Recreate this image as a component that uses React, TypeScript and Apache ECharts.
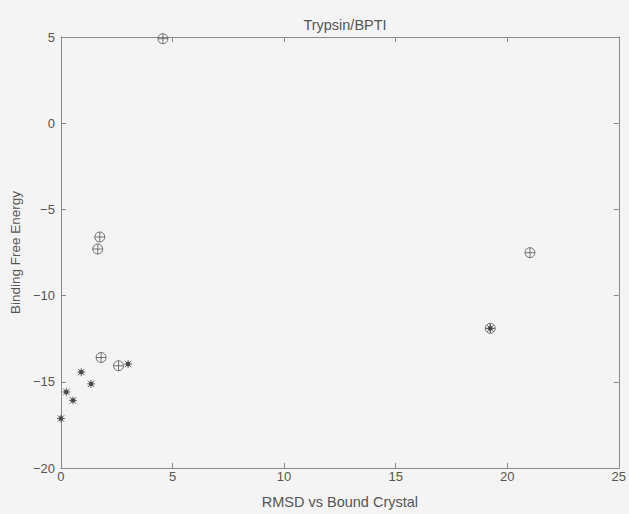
import React, { useEffect, useRef } from "react";
import * as echarts from "echarts";

const circleRmsd = [4.57, 1.74, 1.65, 1.8, 2.58, 19.24, 21.02];
const circleEnergy = [4.9, -6.6, -7.3, -13.59, -14.07, -11.9, -7.51];
const starRmsd = [0.0, 0.24, 0.54, 0.91, 1.35, 3.01, 19.24];
const starEnergy = [-17.13, -15.59, -16.08, -14.44, -15.12, -13.97, -11.9];
const xTicks = [0, 5, 10, 15, 20, 25];
const yTicks = [-20, -15, -10, -5, 0, 5];

const CIRCLE_PLUS =
  "path://M0,-5 A5,5 0 1,1 0,5 A5,5 0 1,1 0,-5 Z M-5,0 L5,0 M0,-5 L0,5";
const STAR =
  "path://M-4,-4 L4,4 M-4,4 L4,-4 M0,-5 L0,5 M-5,0 L5,0 M-2,-2 L2,-2 L2,2 L-2,2 Z";

const FONT = "Liberation Sans";
const TXT = "#555";
const AX = "#8a8a8a";

export default function App() {
  const ref = useRef<HTMLDivElement>(null);
  useEffect(() => {
    document.body.style.margin = "0";
    document.body.style.background = "#f4f4f4";
    const chart = echarts.init(ref.current!, null, { renderer: "svg" });
    const fmt = (v: number) => String(v).replace("-", "\u2212");
    const axisCommon = {
      type: "value" as const,
      splitLine: { show: false },
      axisLine: { show: true, onZero: false, lineStyle: { color: AX, width: 1 } },
      axisTick: { show: true, inside: true, length: 5, lineStyle: { color: AX } },
    };
    chart.setOption({
      animation: false,
      backgroundColor: "#f4f4f4",
      textStyle: { fontFamily: FONT },
      title: {
        text: "Trypsin/BPTI",
        left: 340,
        textAlign: "center",
        top: 12,
        textStyle: { fontFamily: FONT, fontSize: 14.5, fontWeight: "normal", color: TXT },
      },
      grid: { left: 60, right: 10, top: 37, bottom: 36 },
      xAxis: [
        {
          ...axisCommon,
          min: xTicks[0],
          max: xTicks[xTicks.length - 1],
          interval: 5,
          position: "bottom",
          name: "RMSD vs Bound Crystal",
          nameLocation: "middle",
          nameGap: 26,
          nameTextStyle: { fontFamily: FONT, fontSize: 14.5, color: TXT },
          axisLabel: { fontFamily: FONT, fontSize: 13, color: TXT, margin: 2, formatter: fmt },
        },
        {
          ...axisCommon,
          min: xTicks[0],
          max: xTicks[xTicks.length - 1],
          interval: 5,
          position: "top",
          axisLabel: { show: false },
        },
      ],
      yAxis: [
        {
          ...axisCommon,
          min: yTicks[0],
          max: yTicks[yTicks.length - 1],
          interval: 5,
          position: "left",
          name: "Binding Free Energy",
          nameLocation: "middle",
          nameGap: 34,
          nameTextStyle: { fontFamily: FONT, fontSize: 13.5, color: TXT },
          axisLabel: { fontFamily: FONT, fontSize: 13, color: TXT, margin: 6, formatter: fmt },
        },
        {
          ...axisCommon,
          min: yTicks[0],
          max: yTicks[yTicks.length - 1],
          interval: 5,
          position: "right",
          axisLabel: { show: false },
        },
      ],
      series: [
        {
          type: "scatter",
          symbol: CIRCLE_PLUS,
          symbolSize: 10,
          itemStyle: { color: "rgba(0,0,0,0)", borderColor: "#555", borderWidth: 1 },
          data: circleRmsd.map((x, i) => [x, circleEnergy[i]]),
        },
        {
          type: "scatter",
          symbol: STAR,
          symbolSize: 8,
          itemStyle: { color: "#444", borderColor: "#444", borderWidth: 1 },
          data: starRmsd.map((x, i) => [x, starEnergy[i]]),
        },
      ],
    });
    return () => chart.dispose();
  }, []);
  return <div ref={ref} style={{ width: 629, height: 514 }} />;
}
